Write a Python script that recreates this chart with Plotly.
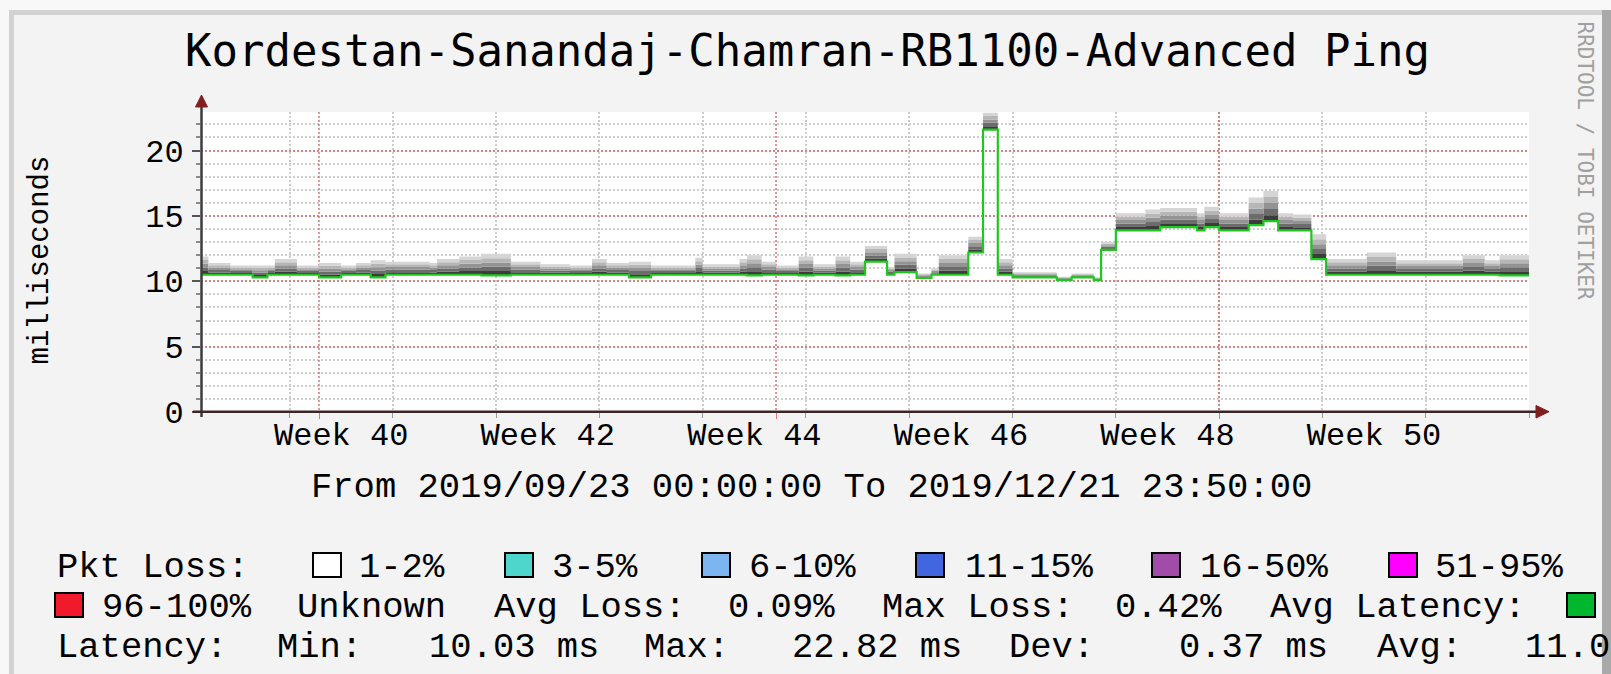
import plotly.graph_objects as go
import pandas as pd

# ---------------- canvas geometry (pixels) ----------------
W, H = 1611, 674
ML, MR, MT, MB = 201, 82, 112, 262
PW, PH = W - ML - MR, H - MT - MB


def px(x):
    return (x - ML) / PW


def py(y):
    return (H - MB - y) / PH


# ---------------- data ----------------
T0 = pd.Timestamp("2019-09-23 00:00:00")
END_DAY = 90.0
SEG_START_DAY = [0.0, 0.5, 2.0, 3.5, 4.5, 5.0, 6.5, 8.0, 9.5, 10.5, 11.5, 12.5, 15.5, 16.0,
                 17.5, 19.0, 21.0, 23.0, 25.0, 26.5, 27.5, 29.0, 30.5, 33.5, 34.0, 36.5,
                 37.0, 38.0, 39.0, 40.5, 41.5, 43.0, 44.0, 45.0, 46.5, 47.0, 48.5, 49.5,
                 50.0, 52.0, 53.0, 54.0, 55.0, 58.0, 59.0, 60.5, 61.0, 62.0, 64.0, 65.0,
                 67.5, 68.0, 69.0, 71.0, 72.0, 73.0, 74.0, 75.25, 76.25, 79.0, 81.0, 85.5,
                 87.0, 88.0]
MEDIAN_MS = [10.5, 10.5, 10.5, 10.3, 10.5, 10.5, 10.5, 10.3, 10.5, 10.5, 10.3, 10.5, 10.5, 10.5,
             10.5, 10.45, 10.5, 10.5, 10.5, 10.5, 10.5, 10.3, 10.5, 10.5, 10.5, 10.5,
             10.45, 10.5, 10.5, 10.45, 10.5, 10.45, 10.5, 11.5, 10.5, 10.7, 10.25, 10.5,
             10.5, 12.2, 21.6, 10.5, 10.3, 10.1, 10.3, 10.1, 12.4, 13.9, 13.9, 14.15,
             13.9, 14.15, 13.9, 14.3, 14.6, 13.9, 13.9, 11.7, 10.5, 10.5, 10.5, 10.5,
             10.5, 10.45]
MAX_MS = [11.9, 11.4, 11.2, 11.2, 11.2, 11.7, 11.2, 11.4, 11.2, 11.4, 11.6, 11.5, 11.4, 11.7,
          11.9, 12.1, 11.5, 11.3, 11.2, 11.7, 11.4, 11.5, 11.2, 11.8, 11.3, 11.7,
          12.0, 11.5, 11.2, 11.9, 11.3, 11.9, 11.5, 12.7, 11.1, 12.1, 10.6, 11.0,
          12.0, 13.4, 22.9, 11.7, 10.7, 10.35, 10.6, 10.3, 13.0, 15.2, 15.5, 15.6,
          15.2, 15.7, 15.2, 16.4, 16.9, 15.2, 15.1, 13.6, 11.7, 12.2, 11.6, 12.0,
          11.6, 12.0]
Y_RANGE = [0, 22.95]
Y_TICKS = [0, 5, 10, 15, 20]

WEEK_TICK_TIMES = ["2019-10-02 12:00", "2019-10-16 12:00", "2019-10-30 12:00",
                   "2019-11-13 12:00", "2019-11-27 12:00", "2019-12-11 12:00"]
WEEK_TICK_TEXT = ["Week 40", "Week 42", "Week 44", "Week 46", "Week 48", "Week 50"]

TITLE = "Kordestan-Sanandaj-Chamran-RB1100-Advanced Ping"
Y_TITLE = "milliseconds"
PERIOD_TEXT = "From 2019/09/23 00:00:00 To 2019/12/21 23:50:00"
WATERMARK = "RRDTOOL / TOBI OETIKER"

LOSS_LABELS = ["1-2%", "3-5%", "6-10%", "11-15%", "16-50%", "51-95%", "96-100%"]
LOSS_COLORS = ["#ffffff", "#4fd6cc", "#7db5f0", "#4166e0", "#a04ca8", "#ff00ff", "#f01a2c"]
AVG_LOSS = "0.09%"
MAX_LOSS = "0.42%"
LAT_MIN = "10.03 ms"
LAT_MAX = "22.82 ms"
LAT_DEV = "0.37 ms"
LAT_AVG = "11.0"
AVG_LAT_COLOR = "#00b82e"

# ---------------- styles ----------------
MONO = "Liberation Mono"
TITLE_FONT = "DejaVu Sans Mono"
SMOKE_STEPS = [0.2, 0.4, 0.6, 0.8, 1.0]
SMOKE_COLORS = ["#3c3c3c", "#6c6c6c", "#939393", "#b6b6b6", "#d5d5d5"]
LINE_GREEN = "#1ec81e"
MINOR_GRID = "#cdcdcd"
MAJOR_GRID = "rgba(222,79,79,0.6)"

x_edges = [T0 + pd.Timedelta(days=d) for d in SEG_START_DAY + [END_DAY]]
med_y = MEDIAN_MS + [MEDIAN_MS[-1]]
top_y = MAX_MS + [MAX_MS[-1]]
x_range = [T0, T0 + pd.Timedelta(days=END_DAY)]

fig = go.Figure()
fig.add_trace(go.Scatter(x=x_edges, y=med_y, mode="lines",
                         line=dict(width=0, shape="hv"), hoverinfo="skip", showlegend=False))
for f, c in zip(SMOKE_STEPS, SMOKE_COLORS):
    band = [m + f * (t - m) for m, t in zip(med_y, top_y)]
    fig.add_trace(go.Scatter(x=x_edges, y=band, mode="lines", fill="tonexty", fillcolor=c,
                             line=dict(width=0, shape="hv"), hoverinfo="skip", showlegend=False))
fig.add_trace(go.Scatter(x=x_edges, y=med_y, mode="lines",
                         line=dict(color=LINE_GREEN, width=2.2, shape="hv"),
                         hoverinfo="skip", showlegend=False))
# helper traces so the overlay axes are drawn
for ax in ("x2", "x3"):
    fig.add_trace(go.Scatter(x=x_range, y=[0, 0], xaxis=ax, mode="lines", opacity=0,
                             line=dict(width=0), hoverinfo="skip", showlegend=False))

fig.update_layout(
    width=W, height=H,
    margin=dict(l=ML, r=MR, t=MT, b=MB, pad=0),
    paper_bgcolor="#f3f3f3", plot_bgcolor="#ffffff",
    showlegend=False, template="none",
    xaxis=dict(type="date", range=x_range, showgrid=True, gridcolor=MINOR_GRID,
               griddash="2px,2px", gridwidth=1.5, dtick=7 * 86400000, tick0="2019-09-29",
               showticklabels=False, ticks="outside", ticklen=5, tickcolor="#9a9a9a",
               zeroline=False, showline=False, fixedrange=True),
    xaxis2=dict(type="date", range=x_range, overlaying="x", anchor="y", showgrid=True,
                gridcolor=MAJOR_GRID, griddash="2px,2px", gridwidth=1.5, dtick="M1",
                tick0="2019-10-01", showticklabels=False, ticks="outside", ticklen=6,
                tickcolor="#e07a7a", zeroline=False, showline=False),
    xaxis3=dict(type="date", range=x_range, overlaying="x", anchor="y", showgrid=False,
                tickmode="array", tickvals=WEEK_TICK_TIMES, ticktext=WEEK_TICK_TEXT,
                ticks="", tickfont=dict(family=MONO, size=32, color="#000000"),
                ticklabelstandoff=0, zeroline=False, showline=False),
    yaxis=dict(range=Y_RANGE, tickmode="array", tickvals=Y_TICKS, showgrid=True,
               gridcolor=MAJOR_GRID, griddash="2px,2px", gridwidth=1.5,
               ticks="outside", ticklen=8, tickcolor="#555555", tickwidth=1.5,
               tickfont=dict(family=MONO, size=32, color="#000000"), ticklabelstandoff=2,
               zeroline=False, showline=False, fixedrange=True,
               minor=dict(dtick=1, tick0=0, showgrid=True, gridcolor=MINOR_GRID,
                          griddash="2px,2px", gridwidth=1.5, ticks="outside", ticklen=4,
                          tickcolor="#8a8a8a")),
)

shapes = []


def rect(x0, y0, x1, y1, fill, line_color=None, lw=0, layer="above"):
    shapes.append(dict(type="rect", xref="paper", yref="paper", x0=px(x0), x1=px(x1),
                       y0=py(y0), y1=py(y1), fillcolor=fill, layer=layer,
                       line=dict(color=line_color or fill, width=lw)))


# outer frame (rrdtool shade A / shade B)
rect(0, 0, W, 10, "#f8f8f8")
rect(0, 0, 9, H, "#f8f8f8")
rect(9, 10, 1602, 15, "#d2d2d2")
rect(9, 10, 14, H, "#d2d2d2")
rect(1602, 10, W, H, "#a9a9a9")

# axes with arrows
shapes.append(dict(type="line", xref="paper", yref="paper", x0=px(201.5), x1=px(201.5),
                   y0=py(417), y1=py(104), line=dict(color="#3c3c3c", width=2.5)))
shapes.append(dict(type="line", xref="paper", yref="paper", x0=px(193), x1=px(1538),
                   y0=py(411.7), y1=py(411.7), line=dict(color="#3a2626", width=2.5)))


def tri(pts, color):
    d = "M " + " L ".join(f"{px(a):.5f},{py(b):.5f}" for a, b in pts) + " Z"
    shapes.append(dict(type="path", xref="paper", yref="paper", path=d,
                       fillcolor=color, line=dict(color=color, width=1)))


tri([(195.5, 107), (207.5, 107), (201.5, 95)], "#801f1f")
tri([(1536, 405.5), (1536, 418), (1549, 411.7)], "#801f1f")

# legend boxes
BOX_W, BOX_H = 28, 24
row1_box_x = [313, 505, 702, 916, 1152, 1389]
for x0, c in zip(row1_box_x, LOSS_COLORS[:6]):
    rect(x0, 553, x0 + BOX_W, 553 + BOX_H, c, "#000000", 2)
rect(55, 593, 55 + BOX_W, 593 + BOX_H, LOSS_COLORS[6], "#000000", 2)
rect(1567, 593, 1567 + BOX_W, 593 + BOX_H, AVG_LAT_COLOR, "#000000", 2)

fig.update_layout(shapes=shapes)

ann = []


def text(s, x, y, size=35.5, family=MONO, anchor="left", color="#000000", angle=0):
    ann.append(dict(text=s, xref="paper", yref="paper", x=px(x), y=py(y), showarrow=False,
                    xanchor=anchor, yanchor="middle", textangle=angle,
                    font=dict(family=family, size=size, color=color)))


text(TITLE, 807.5, 51, size=44, family=TITLE_FONT, anchor="center")
text(Y_TITLE, 40, 260.5, size=29, anchor="center", angle=-90)
text(PERIOD_TEXT, 811.7, 487, anchor="center")
text(WATERMARK, 1585, 160.5, size=21, family=TITLE_FONT, anchor="center",
     color="#a0a0a0", angle=90)

# legend row 1
R1, R2, R3 = 567, 607, 647
text("Pkt Loss:", 55, R1)
for x, s in zip([356.5, 550, 746.5, 963, 1198, 1433], LOSS_LABELS[:6]):
    text(s, x, R1)
# legend row 2
text(LOSS_LABELS[6], 100, R2)
text("Unknown", 295, R2)
text("Avg Loss:", 491.5, R2)
text(AVG_LOSS, 725.5, R2)
text("Max Loss:", 880, R2)
text(MAX_LOSS, 1113, R2)
text("Avg Latency:", 1268, R2)
# legend row 3
text("Latency:", 55, R3)
text("Min:", 275, R3)
text(LAT_MIN, 426.5, R3)
text("Max:", 641.5, R3)
text(LAT_MAX, 790, R3)
text("Dev:", 1006.5, R3)
text(LAT_DEV, 1176.5, R3)
text("Avg:", 1375, R3)
text(LAT_AVG, 1523, R3)

fig.update_layout(annotations=ann)
fig.write_html("out.html",
               config={"displayModeBar": False},
               post_script="document.body.style.margin='0';"
                           "document.body.style.overflow='hidden';")
